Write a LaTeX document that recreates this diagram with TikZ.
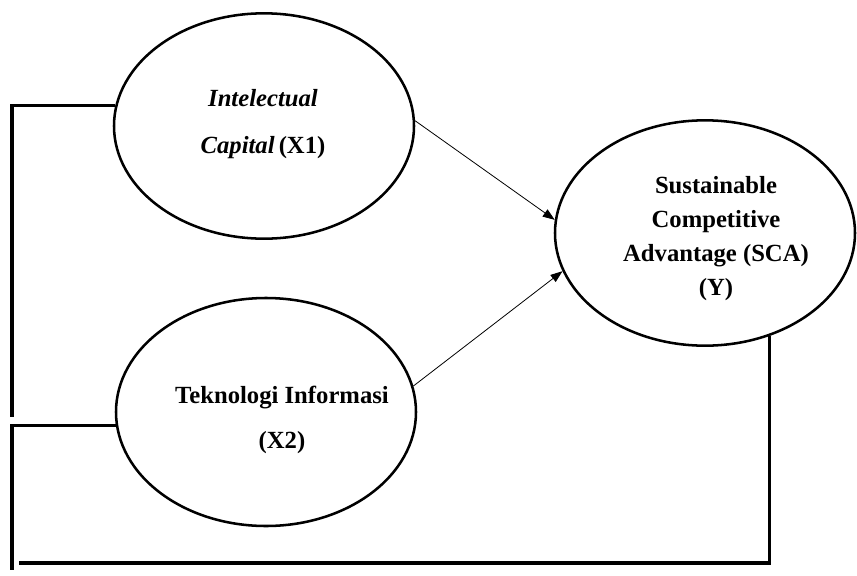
\documentclass[tikz,border=0pt]{standalone}
\usepackage{fontspec}
\setmainfont{Liberation Serif}
\usetikzlibrary{arrows.meta,shapes.geometric}

\begin{document}
\begin{tikzpicture}[x=0.75pt,y=-0.75pt,
  blob/.style={ellipse,draw=black,line width=1.9pt,inner sep=0pt,
               minimum width=225pt,minimum height=169pt},
  lbl/.style={align=center,font=\fontsize{18.5}{25.5}\selectfont\bfseries},
  arr/.style={-{Triangle[length=9pt,width=6.5pt]},line width=0.6pt},
  ln/.style={line width=2.3pt}]

  \useasboundingbox (0,0) rectangle (857,575);

  % the three variables of the model
  \node[blob] (ic) at (264,126) {};
  \node[blob,minimum height=171pt] (ti) at (266,412) {};
  \node[blob] (sca) at (705,233) {};

  \node[lbl] (icT) at (263,124) {\textit{Intelectual}\\[9.5pt]\textit{Capital}\,(X1)};
  \node[lbl] (tiT) at (282,420) {Teknologi Informasi\\[8.5pt](X2)};
  \node[lbl] (scaT) at (716,239) {Sustainable\\Competitive\\Advantage (SCA)\\(Y)};

  % direct effects on Y
  \draw[arr] (ic.2) -- (sca.175);
  \draw[arr] (ti.10) -- (sca.195);

  % the bracket lines round the model
  \coordinate (l1) at (12,417);
  \coordinate (l2) at (12,570);
  \coordinate (b1) at (19,563);
  \draw[ln] (ic.172) -| (l1);
  \draw[ln] (ti.185) -| (l2);
  \draw[ln] (sca.302) |- (b1);
\end{tikzpicture}
\end{document}
